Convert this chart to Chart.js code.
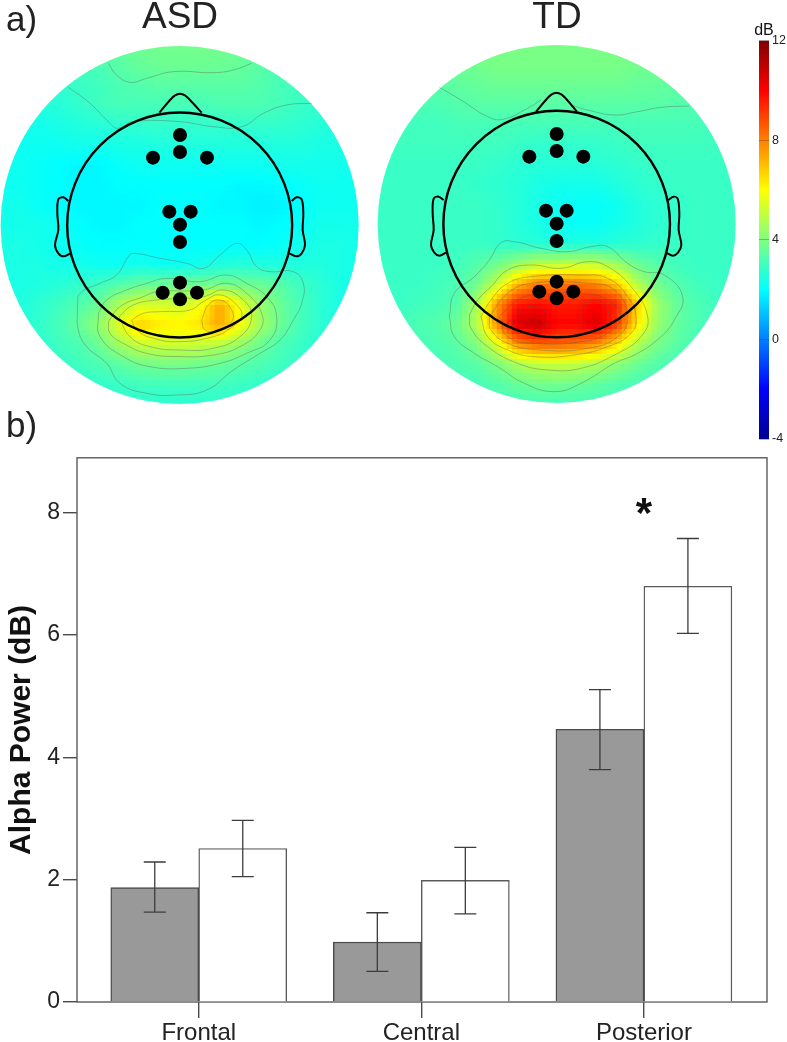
<!DOCTYPE html>
<html>
<head>
<meta charset="utf-8">
<script src="https://cdn.jsdelivr.net/npm/chart.js@4"></script>
<style>
    body { margin: 0; background: #fff; }
    #page { position: relative; width: 787px; height: 1042px; overflow: hidden; font-family: "Liberation Sans", Arial, sans-serif; color: #222; }
    #page canvas { position: absolute; filter: blur(0.45px); }
    .lbl { position: absolute; line-height: 1; white-space: nowrap; filter: blur(0.3px); }
</style>
</head>
<body>
<div id="page">
    <div class="lbl" style="left:6px;top:1px;font-size:35px">a)</div>
    <div class="lbl" style="left:6px;top:407px;font-size:35px">b)</div>
    <div class="lbl" style="left:130px;top:-3px;width:100px;text-align:center;font-size:37px">ASD</div>
    <div class="lbl" style="left:507px;top:-3px;width:100px;text-align:center;font-size:37px">TD</div>
    <div class="lbl" style="left:744px;top:22px;width:40px;text-align:center;font-size:16px;color:#111">dB</div>
    <canvas id="asdMap" width="360" height="360" style="left:0;top:45px"></canvas>
    <canvas id="tdMap" width="360" height="360" style="left:377px;top:44px"></canvas>
    <canvas id="colorBar" width="57" height="430" style="left:730px;top:20px"></canvas>
    <canvas id="barChart" width="787" height="601" style="left:0;top:441px"></canvas>
</div>
<script>
// Bar chart data
const categories = ['Frontal', 'Central', 'Posterior'];
const asdMeans = [1.87, 0.98, 4.46];
const asdErrLow = [1.47, 0.50, 3.80];
const asdErrHigh = [2.29, 1.46, 5.11];
const tdMeans = [2.51, 1.99, 6.80];
const tdErrLow = [2.05, 1.44, 6.03];
const tdErrHigh = [2.97, 2.53, 7.58];
const yTicks = [0, 2, 4, 6, 8];
const colorTicks = [-4, 0, 4, 8, 12];

// Scalp power in dB, every 20px, rows top to bottom
const asdCells = [
    [3.4,3.4,3.4,3.4,3.5,3.6,3.6,3.7,3.8,3.8,3.8,3.8,3.7,3.6,3.5,3.4,3.4,3.4,3.4],
    [3.0,3.0,3.0,3.0,3.0,3.2,3.4,3.6,3.7,3.7,3.7,3.7,3.6,3.4,3.2,3.0,3.0,3.0,3.0],
    [2.8,2.8,2.8,2.8,2.9,3.0,3.2,3.3,3.4,3.4,3.4,3.4,3.4,3.3,3.1,3.0,2.9,2.8,2.8],
    [2.5,2.5,2.5,2.6,2.8,3.0,3.1,3.1,3.1,3.1,3.1,3.2,3.2,3.2,3.1,2.9,2.8,2.7,2.6],
    [2.3,2.3,2.3,2.4,2.5,2.6,2.7,2.8,2.8,2.8,2.8,2.8,2.8,2.8,2.8,2.7,2.6,2.5,2.4],
    [2.2,2.2,2.2,2.2,2.3,2.3,2.4,2.4,2.5,2.5,2.5,2.5,2.5,2.5,2.5,2.5,2.4,2.4,2.3],
    [2.2,2.2,2.1,2.0,1.9,1.9,2.1,2.2,2.2,2.2,2.2,2.2,2.2,2.2,2.3,2.3,2.3,2.3,2.2],
    [2.2,2.2,2.1,2.0,1.9,1.9,2.0,2.0,2.0,2.0,2.0,2.0,1.9,1.9,2.0,2.1,2.2,2.2,2.2],
    [2.3,2.3,2.1,2.0,1.9,1.9,1.9,1.9,2.0,2.0,2.0,1.9,1.9,1.8,1.8,2.0,2.2,2.2,2.2],
    [2.3,2.3,2.3,2.2,2.0,1.9,1.9,2.0,2.0,2.0,2.0,2.0,2.0,1.9,2.0,2.1,2.3,2.3,2.3],
    [2.4,2.4,2.3,2.2,2.1,2.0,2.0,2.0,2.0,2.0,2.0,2.0,2.0,2.0,2.1,2.3,2.4,2.4,2.3],
    [2.4,2.4,2.4,2.3,2.3,2.2,2.2,2.3,2.2,2.2,2.3,2.5,2.6,2.5,2.5,2.5,2.5,2.4,2.3],
    [2.4,2.4,2.5,2.6,2.8,3.0,3.3,3.6,3.7,3.8,3.8,3.9,3.8,3.7,3.4,3.0,2.7,2.4,2.3],
    [2.4,2.5,2.7,3.0,3.3,3.7,4.8,5.4,5.4,5.2,5.8,7.4,5.8,4.4,3.7,3.1,2.7,2.4,2.2],
    [2.4,2.5,2.8,3.1,3.6,4.3,5.6,6.8,6.3,6.2,6.4,7.4,6.0,4.6,3.7,3.1,2.7,2.4,2.2],
    [2.4,2.5,2.7,3.0,3.2,3.7,4.5,5.1,5.2,5.2,5.1,4.8,4.3,3.7,3.2,2.9,2.6,2.3,2.2],
    [2.5,2.5,2.6,2.8,3.0,3.2,3.4,3.7,3.8,3.8,3.7,3.6,3.4,3.2,3.0,2.8,2.5,2.3,2.2],
    [2.5,2.5,2.5,2.6,2.7,2.8,2.9,3.0,3.0,3.0,3.0,3.0,2.9,2.8,2.7,2.6,2.4,2.3,2.3],
    [2.5,2.5,2.5,2.5,2.6,2.6,2.7,2.7,2.7,2.7,2.7,2.7,2.7,2.6,2.6,2.5,2.4,2.4,2.4]
];
const tdCells = [
    [3.8,3.8,3.8,3.8,3.8,3.9,3.9,3.9,3.9,3.9,3.9,3.9,3.9,3.9,3.8,3.8,3.8,3.8,3.8],
    [3.5,3.5,3.5,3.6,3.7,3.8,3.9,3.9,3.9,3.9,3.9,3.9,3.9,3.8,3.7,3.6,3.5,3.5,3.5],
    [3.3,3.3,3.4,3.4,3.5,3.6,3.7,3.7,3.7,3.7,3.7,3.7,3.7,3.6,3.6,3.5,3.4,3.3,3.3],
    [3.1,3.1,3.2,3.2,3.3,3.4,3.4,3.4,3.4,3.4,3.4,3.4,3.4,3.4,3.4,3.3,3.3,3.2,3.1],
    [3.0,3.0,3.0,3.0,3.1,3.1,3.1,3.1,3.1,3.1,3.1,3.1,3.1,3.1,3.1,3.1,3.1,3.0,3.0],
    [3.0,3.0,3.0,3.0,3.0,3.0,3.0,2.9,2.8,2.8,2.8,2.8,2.9,3.0,3.0,3.0,3.0,3.0,3.0],
    [2.9,2.9,2.9,2.9,2.9,2.9,2.8,2.7,2.6,2.6,2.6,2.6,2.7,2.8,2.9,2.9,2.9,2.9,2.9],
    [2.9,2.9,2.9,2.9,2.9,2.8,2.7,2.6,2.4,2.3,2.3,2.3,2.5,2.7,2.8,2.9,2.9,2.9,2.9],
    [2.9,2.9,2.9,2.9,2.9,2.9,2.8,2.6,2.4,2.2,2.1,2.1,2.2,2.5,2.7,2.8,2.9,2.9,2.9],
    [2.9,2.9,2.9,2.9,2.9,2.9,2.8,2.6,2.4,2.2,2.1,2.1,2.3,2.5,2.7,2.8,2.9,2.9,2.9],
    [2.9,2.9,2.9,2.9,2.9,2.9,2.8,2.7,2.6,2.5,2.5,2.5,2.6,2.7,2.8,2.9,2.9,2.9,2.9],
    [2.9,2.9,2.9,2.9,3.0,3.3,3.7,4.3,4.9,4.9,5.0,5.0,4.4,3.7,3.3,3.0,2.9,2.9,2.9],
    [2.9,2.9,2.9,3.0,3.2,3.7,5.0,7.0,8.0,8.2,8.2,7.8,6.8,4.8,3.8,3.3,3.0,2.9,2.9],
    [2.9,2.9,3.0,3.1,3.3,4.6,7.6,9.6,9.8,9.6,9.6,10.0,9.5,6.8,4.5,3.6,3.2,3.0,2.9],
    [2.9,3.0,3.2,3.3,3.7,4.8,7.8,10.6,11.0,10.0,10.0,10.6,9.2,6.4,4.4,3.6,3.2,3.0,2.9],
    [2.9,3.0,3.1,3.2,3.4,4.0,5.5,7.8,8.5,8.5,8.3,7.8,6.5,4.8,3.9,3.4,3.1,3.0,2.9],
    [2.9,3.0,3.0,3.1,3.2,3.4,3.9,4.6,5.0,5.1,5.0,4.7,4.2,3.7,3.3,3.1,3.0,2.9,2.9],
    [2.9,2.9,3.0,3.0,3.1,3.1,3.3,3.6,3.8,3.8,3.7,3.5,3.3,3.1,3.1,3.0,2.9,2.9,2.9],
    [3.0,3.0,3.0,3.0,3.0,3.0,3.1,3.1,3.1,3.1,3.1,3.1,3.1,3.0,3.0,3.0,3.0,3.0,3.0]
];

// Head drawings, in head units (3 units = 1px on the page)
const asdElectrodes = [[540,405],[540,456],[459,473],[621,473],[508,635],[572,635],[540,674],[540,726],[540,848],[488,878],[591,878],[540,898]];
const tdElectrodes = [[547,402],[547,453],[465,470],[627,470],[515,632],[577,632],[547,671],[547,723],[547,845],[495,875],[597,875],[547,895]];
const asdNose = [[478,338],[510,300],[525,286],[540,281],[555,286],[570,300],[605,338]];
const tdNose = [[485,335],[517,297],[532,283],[546,278],[561,283],[576,297],[608,335]];
const asdEarLeft = [[205,603],[190,592],[175,598],[172,640],[175,690],[165,735],[175,760],[190,769],[212,760]];
const asdEarRight = [[875,603],[890,592],[905,598],[910,640],[908,690],[915,735],[905,760],[890,769],[868,760]];
const tdEarLeft = [[208,600],[193,590],[178,596],[175,640],[178,690],[170,735],[180,758],[195,767],[215,758]];
const tdEarRight = [[882,600],[897,590],[910,596],[915,640],[913,690],[921,735],[911,758],[896,767],[875,758]];

const asdContours = [
    [[325,190],[350,225],[390,247],[440,235],[520,215],[640,218],[700,210],[755,190]],
    [[205,262],[270,310],[330,370],[352,385],[400,365],[540,365],[640,380],[725,380],[790,340],[860,315],[935,310]],
    [[232,920],[240,880],[300,850],[350,825],[385,770],[400,760],[480,775],[560,790],[610,805],[660,765],[710,730],[740,750],[770,800],[810,815],[880,815],[910,850],[905,910],[880,960],[840,1020],[780,1060],[700,1110],[620,1170],[530,1185],[440,1180],[360,1150],[320,1090],[260,1040],[235,990],[232,920]],
    [[295,940],[320,900],[380,870],[440,850],[500,835],[600,845],[680,825],[740,850],[800,890],[830,950],[810,1020],[740,1060],[660,1090],[560,1105],[450,1100],[370,1070],[300,1010],[295,940]],
    [[325,965],[360,920],[430,890],[470,875],[610,870],[680,850],[740,880],[785,940],[780,990],[720,1040],[640,1065],[540,1070],[440,1060],[370,1030],[330,1000],[325,965]],
    [[357,950],[400,915],[470,900],[610,890],[670,870],[730,900],[755,950],[720,1010],[640,1045],[540,1050],[450,1040],[390,1010],[357,950]],
    [[395,960],[430,940],[480,935],[570,930],[610,905],[660,885],[710,915],[725,950],[690,985],[640,1010],[540,1025],[460,1015],[410,990],[395,960]],
    [[605,960],[625,915],[660,900],[695,930],[695,965],[650,990],[615,990],[605,960]]
];
const tdContours = [
    [[195,262],[260,300],[340,350],[385,358],[460,325],[500,300]],
    [[590,315],[640,330],[720,345],[790,335],[860,322],[945,318]],
    [[225,950],[240,880],[300,830],[345,780],[380,728],[420,725],[500,745],[580,755],[650,740],[700,740],[760,790],[810,815],[870,825],[925,890],[900,960],[860,1010],[790,1060],[720,1090],[620,1150],[540,1175],[450,1150],[370,1100],[300,1060],[240,1010],[225,950]],
    [[285,945],[310,900],[350,860],[400,810],[470,795],[560,805],[640,785],[700,800],[770,860],[820,950],[800,1010],[730,1060],[620,1105],[520,1110],[430,1090],[340,1040],[290,985],[285,945]],
    [[320,950],[350,900],[400,850],[470,830],[620,825],[700,835],[760,890],[785,950],[770,1000],[700,1040],[600,1065],[480,1070],[400,1050],[340,1010],[320,950]],
    [[345,950],[400,880],[470,850],[640,850],[720,870],[760,950],[730,1010],[640,1045],[500,1050],[400,1030],[350,990],[345,950]],
    [[375,950],[430,900],[480,885],[620,880],[700,900],[740,950],[700,1000],[620,1025],[480,1030],[400,1010],[375,950]],
    [[415,960],[450,925],[500,925],[520,955],[500,990],[450,1000],[415,980],[415,960]],
    [[615,950],[640,905],[680,905],[705,950],[690,985],[640,985],[615,950]]
];

const FONT = '"Liberation Sans", Arial, sans-serif';

// Jet colormap over -4..12 dB
function jet(db) {
    const t = Math.min(1, Math.max(0, (db + 4) / 16));
    const r = Math.min(1, Math.max(0, Math.min(4 * t - 1.5, -4 * t + 4.5)));
    const g = Math.min(1, Math.max(0, Math.min(4 * t - 0.5, -4 * t + 3.5)));
    const b = Math.min(1, Math.max(0, Math.min(4 * t + 0.5, -4 * t + 2.5)));
    return `rgb(${Math.round(r * 255)},${Math.round(g * 255)},${Math.round(b * 255)})`;
}

// Paints the scalp cells behind the head outline, clipped to the disc
const scalpPlugin = {
    id: 'scalp',
    beforeDatasetsDraw(chart, args, opts) {
        const { ctx, scales: { x, y } } = chart;
        const cells = opts.cells, cx = opts.cx, cy = opts.cy;
        const px = x.getPixelForValue(cx), py = y.getPixelForValue(cy);
        const radius = Math.abs(x.getPixelForValue(cx + 537) - px);
        ctx.save();
        ctx.beginPath();
        ctx.arc(px, py, radius, 0, Math.PI * 2);
        ctx.clip();
        const spacing = 60, block = 15;
        for (let v = cy - 540; v < cy + 540; v += block) {
            for (let u = cx - 540; u < cx + 540; u += block) {
                const gx = (u + block / 2 - cx + 540) / spacing;
                const gy = (v + block / 2 - cy + 540) / spacing;
                const i = Math.min(17, Math.floor(gx)), j = Math.min(17, Math.floor(gy));
                const fx = gx - i, fy = gy - j;
                const top = cells[j][i] * (1 - fx) + cells[j][i + 1] * fx;
                const bot = cells[j + 1][i] * (1 - fx) + cells[j + 1][i + 1] * fx;
                ctx.fillStyle = jet(top * (1 - fy) + bot * fy);
                const x0 = x.getPixelForValue(u), y0 = y.getPixelForValue(v);
                ctx.fillRect(x0, y0, x.getPixelForValue(u + block) - x0 + 0.5, y.getPixelForValue(v + block) - y0 + 0.5);
            }
        }
        ctx.restore();
    }
};

function points(list) {
    return list.map(p => ({ x: p[0], y: p[1] }));
}

function headMap(canvasId, head) {
    const outline = (list, tension) => ({ data: points(list), showLine: true, tension, borderColor: '#000', borderWidth: 2, pointRadius: 0 });
    new Chart(document.getElementById(canvasId), {
        type: 'scatter',
        data: {
            datasets: [
                { data: points(head.electrodes), pointRadius: 7, pointBackgroundColor: '#000', pointBorderWidth: 0 },
                { data: [{ x: head.cx, y: head.cy }], pointRadius: head.headRadius, pointBackgroundColor: 'rgba(0,0,0,0)', pointBorderColor: '#000', pointBorderWidth: 2.4 },
                outline(head.nose, 0.15),
                outline(head.earLeft, 0.35),
                outline(head.earRight, 0.35),
                ...head.contours.map(c => ({ data: points(c), showLine: true, tension: 0.45, borderColor: 'rgba(90,90,90,0.38)', borderWidth: 1, pointRadius: 0 }))
            ]
        },
        options: {
            responsive: false,
            animation: false,
            events: [],
            layout: { padding: 0, autoPadding: false },
            plugins: {
                legend: { display: false },
                tooltip: { enabled: false },
                scalp: { cells: head.cells, cx: head.cx, cy: head.cy }
            },
            scales: {
                x: { display: false, min: head.cx - 539, max: head.cx + 541 },
                y: { display: false, reverse: true, min: head.cy - 540, max: head.cy + 540 }
            }
        },
        plugins: [scalpPlugin]
    });
}

headMap('asdMap', { cells: asdCells, cx: 539, cy: 675, headRadius: 112.5, electrodes: asdElectrodes, nose: asdNose, earLeft: asdEarLeft, earRight: asdEarRight, contours: asdContours });
headMap('tdMap', { cells: tdCells, cx: 547, cy: 672, headRadius: 113.3, electrodes: tdElectrodes, nose: tdNose, earLeft: tdEarLeft, earRight: tdEarRight, contours: tdContours });

// Color bar
new Chart(document.getElementById('colorBar'), {
    type: 'bar',
    data: {
        labels: ['dB'],
        datasets: [{
            data: [[colorTicks[0], colorTicks[colorTicks.length - 1]]],
            barPercentage: 1,
            categoryPercentage: 1,
            backgroundColor(context) {
                const area = context.chart.chartArea;
                if (!area) return '#000';
                const g = context.chart.ctx.createLinearGradient(0, area.bottom, 0, area.top);
                [-4, -2, 2, 6, 10, 12].forEach(db => g.addColorStop((db + 4) / 16, jet(db)));
                g.addColorStop(0, '#00008f');
                g.addColorStop(1, '#800000');
                return g;
            }
        }]
    },
    options: {
        responsive: false,
        animation: false,
        events: [],
        layout: { padding: { left: 29, top: 20.7, bottom: 11 }, autoPadding: false },
        plugins: { legend: { display: false }, tooltip: { enabled: false } },
        scales: {
            x: { display: false },
            y: {
                position: 'right',
                min: colorTicks[0],
                max: colorTicks[colorTicks.length - 1],
                afterBuildTicks(scale) { scale.ticks = colorTicks.map(v => ({ value: v })); },
                afterFit(scale) { scale.width = 18; },
                border: { display: false },
                grid: { z: 1, color: 'rgba(60,60,60,0.35)', drawTicks: false },
                ticks: { color: '#222', padding: 3, font: { family: FONT, size: 12.5 } }
            }
        }
    }
});

// Error bars, plot frame and the significance star
const errorBarPlugin = {
    id: 'errorBars',
    beforeDatasetsDraw(chart) {
        const { ctx, chartArea: a } = chart;
        ctx.save();
        ctx.strokeStyle = '#5a5a5a';
        ctx.lineWidth = 1.4;
        ctx.strokeRect(a.left, a.top, a.right - a.left, a.bottom - a.top);
        ctx.restore();
    },
    afterDatasetsDraw(chart) {
        const { ctx, scales: { x, y } } = chart;
        const groups = [[asdErrLow, asdErrHigh], [tdErrLow, tdErrHigh]];
        ctx.save();
        ctx.strokeStyle = '#3c3c3c';
        ctx.lineWidth = 1.3;
        groups.forEach((g, d) => {
            chart.getDatasetMeta(d).data.forEach((bar, i) => {
                const lo = y.getPixelForValue(g[0][i]), hi = y.getPixelForValue(g[1][i]);
                ctx.beginPath();
                ctx.moveTo(bar.x, lo); ctx.lineTo(bar.x, hi);
                ctx.moveTo(bar.x - 11, lo); ctx.lineTo(bar.x + 11, lo);
                ctx.moveTo(bar.x - 11, hi); ctx.lineTo(bar.x + 11, hi);
                ctx.stroke();
            });
        });
        ctx.fillStyle = '#111';
        ctx.font = `bold 42px ${FONT}`;
        ctx.textAlign = 'center';
        ctx.textBaseline = 'middle';
        ctx.fillText('*', x.getPixelForValue(3), y.getPixelForValue(8) + 3);
        ctx.restore();
    }
};

new Chart(document.getElementById('barChart'), {
    type: 'bar',
    data: {
        datasets: [
            { label: 'ASD', data: asdMeans.map((v, i) => ({ x: i + 1, y: v })), backgroundColor: '#999999', borderColor: '#4a4a4a', borderWidth: 1.4, barThickness: 88 },
            { label: 'TD', data: tdMeans.map((v, i) => ({ x: i + 1, y: v })), backgroundColor: '#ffffff', borderColor: '#5a5a5a', borderWidth: 1.4, barThickness: 88 }
        ]
    },
    options: {
        responsive: false,
        animation: false,
        events: [],
        layout: { padding: { top: 10.5, right: 20 }, autoPadding: false },
        plugins: { legend: { display: false }, tooltip: { enabled: false } },
        scales: {
            x: {
                type: 'linear',
                offset: false,
                min: 0.453,
                max: 3.553,
                afterBuildTicks(scale) { scale.ticks = categories.map((c, i) => ({ value: i + 1 })); },
                afterFit(scale) { scale.height = 40; },
                border: { display: false },
                grid: { offset: false, drawOnChartArea: false, tickLength: 16, color: '#4a4a4a', lineWidth: 1.4 },
                ticks: {
                    color: '#222',
                    padding: 1,
                    maxRotation: 0,
                    autoSkip: false,
                    font: { family: FONT, size: 24 },
                    callback: value => categories[value - 1]
                }
            },
            y: {
                min: 0,
                max: 8.9,
                afterBuildTicks(scale) { scale.ticks = yTicks.map(v => ({ value: v })); },
                afterFit(scale) { scale.width = 77; },
                border: { display: false },
                grid: { drawOnChartArea: false, tickLength: 14, color: '#4a4a4a', lineWidth: 1.4 },
                title: { display: true, text: 'Alpha Power (dB)', color: '#111', padding: { top: 4, bottom: 0 }, font: { family: FONT, size: 30, weight: 'bold' } },
                ticks: { color: '#222', padding: 3, font: { family: FONT, size: 23 } }
            }
        }
    },
    plugins: [errorBarPlugin]
});
</script>
</body>
</html>
